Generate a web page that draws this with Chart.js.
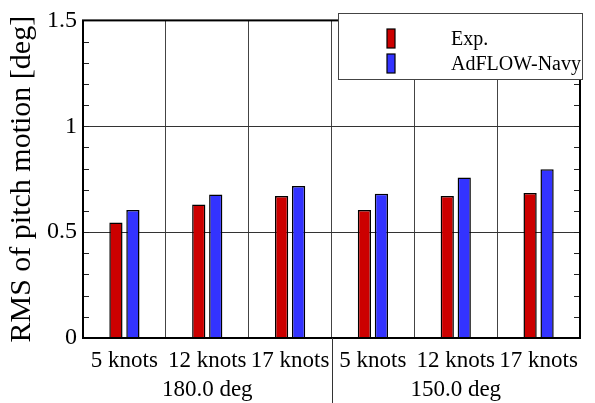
<!DOCTYPE html>
<html>
<head>
<meta charset="utf-8">
<script src="https://cdn.jsdelivr.net/npm/chart.js@4/dist/chart.umd.min.js"></script>
<style>
  html, body { margin: 0; padding: 0; background: #fff; }
  #wrap { width: 595px; height: 403px; position: relative; }
</style>
</head>
<body>
<div id="wrap"><canvas id="c" width="595" height="403"></canvas></div>
<script>
// ---- data ----
const categories = ['5 knots', '12 knots', '17 knots', '5 knots', '12 knots', '17 knots'];
const headingLabels = ['', '180.0 deg', '', '', '150.0 deg', ''];
const seriesNames = ['Exp.', 'AdFLOW-Navy'];
const expValues = [0.546, 0.630, 0.671, 0.604, 0.671, 0.685];
const adflowValues = [0.604, 0.678, 0.718, 0.681, 0.758, 0.797];
const yMin = 0, yMax = 1.5, yMajorStep = 0.5, yMinorStep = 0.1;
const yTitle = 'RMS of pitch motion [deg]';

const FONT = 'Liberation Serif';
Chart.defaults.font.family = FONT;
Chart.defaults.color = '#000';
const RED = '#cc0000', BLUE = '#3333ff';

const framePlugin = {
  id: 'frame',
  afterDraw(chart) {
    const ctx = chart.ctx;
    const a = chart.chartArea;
    const y = chart.scales.y;
    const x = chart.scales.x;
    ctx.save();
    // minor ticks (inward, both sides)
    ctx.strokeStyle = '#222';
    ctx.lineWidth = 1;
    const n = Math.round((yMax - yMin) / yMinorStep);
    for (let i = 0; i <= n; i++) {
      const v = yMin + i * yMinorStep;
      const py = Math.round(y.getPixelForValue(v)) + 0.5;
      ctx.beginPath();
      ctx.moveTo(a.left, py); ctx.lineTo(a.left + 6, py);
      ctx.moveTo(a.right, py); ctx.lineTo(a.right - 6, py);
      ctx.stroke();
    }
    // plot frame
    ctx.strokeStyle = '#000';
    ctx.lineWidth = 2;
    ctx.strokeRect(a.left, a.top, a.right - a.left, a.bottom - a.top);
    // group separator below axis
    const sx = Math.round((x.getPixelForValue(2) + x.getPixelForValue(3)) / 2) + 0.5;
    ctx.lineWidth = 1;
    ctx.strokeStyle = '#333';
    ctx.beginPath();
    ctx.moveTo(sx, a.bottom); ctx.lineTo(sx, chart.height);
    ctx.stroke();
    // legend box
    const lx = 338, ly = 13, lw = 244, lh = 66;
    ctx.fillStyle = '#fff';
    ctx.fillRect(lx, ly, lw, lh);
    ctx.strokeStyle = '#444';
    ctx.lineWidth = 1;
    ctx.strokeRect(lx + 0.5, ly + 0.5, lw, lh);
    const ds = chart.data.datasets;
    ctx.font = '20px "' + FONT + '"';
    ctx.textBaseline = 'alphabetic';
    ctx.textAlign = 'left';
    ds.forEach((d, i) => {
      const my = 29 + i * 25;
      ctx.fillStyle = d.backgroundColor;
      ctx.fillRect(387, my, 8, 19);
      ctx.strokeStyle = '#000';
      ctx.lineWidth = 1.2;
      ctx.strokeRect(387, my, 8, 19);
      ctx.fillStyle = '#000';
      ctx.fillText(d.label, 451, 45 + i * 25);
    });
    ctx.restore();
  }
};

new Chart(document.getElementById('c'), {
  type: 'bar',
  data: {
    labels: categories,
    datasets: [
      { label: seriesNames[0], data: expValues, backgroundColor: RED, borderColor: '#000', borderWidth: 1.5,
        categoryPercentage: 0.41, barPercentage: 0.78 },
      { label: seriesNames[1], data: adflowValues, backgroundColor: BLUE, borderColor: '#000', borderWidth: 1.5,
        categoryPercentage: 0.41, barPercentage: 0.78 }
    ]
  },
  options: {
    responsive: false,
    animation: false,
    devicePixelRatio: 1,
    layout: { padding: { left: 0, right: 15, top: 20, bottom: 0 } },
    plugins: { legend: { display: false }, tooltip: { enabled: false } },
    scales: {
      x: {
        type: 'category',
        position: 'bottom',
        weight: 0,
        offset: true,
        grid: { offset: true, color: '#444', lineWidth: 1, drawTicks: false },
        border: { display: false },
        ticks: { color: '#000', font: { family: FONT, size: 23 }, padding: 9, maxRotation: 0, autoSkip: false },
        afterFit(s) { s.height = 38; }
      },
      x2: {
        type: 'category',
        position: 'bottom',
        weight: 1,
        labels: headingLabels,
        offset: true,
        grid: { display: false, drawTicks: false },
        border: { display: false },
        ticks: { color: '#000', font: { family: FONT, size: 23 }, padding: 0, maxRotation: 0, autoSkip: false },
        afterFit(s) { s.height = 27; }
      },
      y: {
        min: yMin, max: yMax,
        ticks: { stepSize: yMajorStep, color: '#000', font: { family: FONT, size: 24 }, padding: 6,
          callback: (v) => String(Number(v.toFixed(2))) },
        grid: { color: '#333', lineWidth: 1, drawTicks: false },
        border: { display: false },
        title: { display: true, text: yTitle, color: '#000', font: { family: FONT, size: 30 }, padding: { top: 4, bottom: 0 } },
        afterFit(s) { s.width = 83; }
      }
    }
  },
  plugins: [framePlugin]
});
</script>
</body>
</html>
